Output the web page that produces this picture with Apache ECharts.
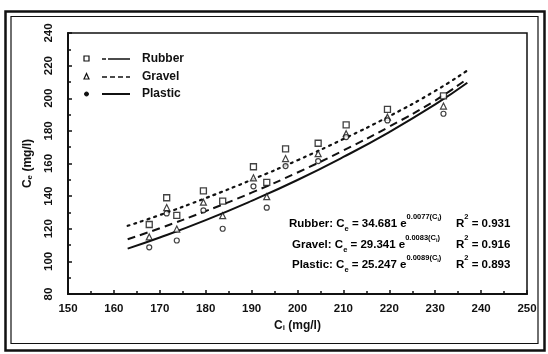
<!DOCTYPE html>
<html>
<head>
<meta charset="utf-8">
<script src="https://cdn.jsdelivr.net/npm/echarts@6/dist/echarts.min.js"></script>
<style>
html,body{margin:0;padding:0;background:#fff;}
#c{width:548px;height:354px;}
</style>
</head>
<body>
<div id="c"></div>
<script>
// ---- data ----
var ci = [167.7, 171.5, 173.7, 179.5, 183.7, 190.4, 193.3, 197.4, 204.5, 210.6, 219.6, 231.8];
var rubber  = [122.6, 139.0, 128.2, 143.2, 136.9, 158.0, 148.4, 169.0, 172.4, 183.7, 193.2, 201.4];
var gravel  = [115.0, 133.0, 119.8, 136.3, 128.0, 151.2, 139.7, 163.0, 166.0, 178.3, 188.4, 195.2];
var plastic = [108.6, 129.4, 112.8, 131.3, 120.0, 146.0, 132.9, 158.4, 161.5, 176.2, 186.4, 190.5];

var fitX       = [163, 170, 180, 190, 200, 210, 220, 230, 237];
var fitRubber  = [121.8, 128.4, 138.8, 150.0, 162.0, 175.0, 189.0, 204.5, 217.0];
var fitGravel  = [113.6, 120.3, 130.8, 142.1, 154.5, 168.0, 182.6, 198.6, 212.0];
var fitPlastic = [107.8, 114.6, 125.3, 137.1, 149.9, 164.0, 179.3, 196.2, 209.5];

var seriesNames = ['Rubber', 'Gravel', 'Plastic'];
var eqA  = ['34.681', '29.341', '25.247'];
var eqB  = ['0.0077', '0.0083', '0.0089'];
var eqR2 = ['0.931', '0.916', '0.893'];

var xTicks = {min: 150, max: 250, interval: 10};
var yTicks = {min: 80, max: 240, interval: 20};

function pairs(xs, ys){ return xs.map(function(x,i){ return [x, ys[i]]; }); }

var FONT = 'Liberation Sans, Arial, sans-serif';
var chart = echarts.init(document.getElementById('c'), null, {renderer:'canvas'});

var richEq = {
  b:  {fontFamily: FONT, fontWeight: 'bold', fontSize: 11.5, color: '#111', lineHeight: 16, verticalAlign: 'middle'},
  s:  {fontFamily: FONT, fontWeight: 'bold', fontSize: 7.5, color: '#111', lineHeight: 16, verticalAlign: 'bottom', padding: [0,0,-1,0]},
  p:  {fontFamily: FONT, fontWeight: 'bold', fontSize: 7.5, color: '#111', lineHeight: 16, verticalAlign: 'top', padding: [-3,0,0,0]},
  ps: {fontFamily: FONT, fontWeight: 'bold', fontSize: 5.5, color: '#111', lineHeight: 16, verticalAlign: 'top', padding: [0,0,0,0]}
};

var graphics = [
  {type:'rect', shape:{x:5.5, y:11.5, width:539, height:339}, style:{fill:'none', stroke:'#111', lineWidth:2.5}, silent:true},
  {type:'rect', shape:{x:11, y:16.5, width:527, height:327}, style:{fill:'none', stroke:'#111', lineWidth:1.2}, silent:true}
];

// legend (drawn manually to match the reference layout)
var legY = [59, 77, 94];
var legDash = [[4,2,22,100], [5,3], null];
graphics.push({type:'rect', shape:{x:84, y:legY[0]-3, width:5, height:5}, style:{fill:'#fff', stroke:'#111', lineWidth:1.2}});
graphics.push({type:'polygon', shape:{points:[[86.5,legY[1]-3.5],[84,legY[1]+2],[89,legY[1]+2]]}, style:{fill:'#fff', stroke:'#111', lineWidth:1.2}});
graphics.push({type:'circle', shape:{cx:86.5, cy:legY[2], r:2}, style:{fill:'#111', stroke:'#111', lineWidth:1}});
for (var k=0;k<3;k++){
  graphics.push({type:'line', shape:{x1:102, y1:legY[k], x2:130, y2:legY[k]}, style:{stroke:'#111', lineWidth: k===2?2:1.6, lineDash: legDash[k] || null}});
  graphics.push({type:'text', x:142, y:legY[k], style:{text: seriesNames[k], font: 'bold 12px ' + FONT, fill:'#111', textVerticalAlign:'middle'}});
}

// equations
var eqY = [224, 245, 265];
var eqX = [289, 292, 292];
for (var j=0;j<3;j++){
  graphics.push({type:'text', x:eqX[j], y:eqY[j], style:{
    text: '{b|' + seriesNames[j] + ': C}{s|e}{b| = ' + eqA[j] + ' e}{p|' + eqB[j] + '(C}{ps|i}{p|)}',
    rich: richEq, textVerticalAlign:'middle'}});
  graphics.push({type:'text', x:456, y:eqY[j], style:{
    text: '{b|R}{p|2}{b| = ' + eqR2[j] + '}',
    rich: richEq, textVerticalAlign:'middle'}});
}

var axisCommon = {
  axisLine:{show:true, lineStyle:{color:'#111', width:2}},
  axisTick:{show:true, inside:true, length:4, lineStyle:{color:'#111', width:1.5}},
  minorTick:{show:true, splitNumber:2, length:3, lineStyle:{color:'#111', width:1.5}},
  splitLine:{show:false},
  nameTextStyle:{fontFamily:FONT, fontWeight:'bold', fontSize:12, color:'#111'}
};

var option = {
  backgroundColor:'#fff',
  animation:false,
  grid:{left:68, right:21, top:33, bottom:60, show:true, borderColor:'#111', borderWidth:1.5},
  xAxis: Object.assign({}, axisCommon, {
    type:'value', min:xTicks.min, max:xTicks.max, interval:xTicks.interval,
    name:'{b|C}{s|i}{b| (mg/l)}', nameLocation:'middle', nameGap:26,
    nameTextStyle:{rich:{
      b:{fontFamily:FONT, fontWeight:'bold', fontSize:12, color:'#111'},
      s:{fontFamily:FONT, fontWeight:'bold', fontSize:8, color:'#111', verticalAlign:'bottom', padding:[4,0,0,0]}}},
    axisLabel:{margin:9, fontFamily:FONT, fontWeight:'bold', fontSize:11.5, color:'#111'}
  }),
  yAxis: Object.assign({}, axisCommon, {
    type:'value', min:yTicks.min, max:yTicks.max, interval:yTicks.interval,
    name:'{b|C}{s|e}{b| (mg/l)}', nameLocation:'middle', nameGap:34,
    nameTextStyle:{rich:{
      b:{fontFamily:FONT, fontWeight:'bold', fontSize:12, color:'#111'},
      s:{fontFamily:FONT, fontWeight:'bold', fontSize:8, color:'#111', verticalAlign:'bottom', padding:[4,0,0,0]}}},
    axisLabel:{rotate:90, margin:13, fontFamily:FONT, fontWeight:'bold', fontSize:11.5, color:'#111'}
  }),
  graphic: graphics,
  series:[
    {type:'scatter', name:seriesNames[0], data:pairs(ci, rubber), symbol:'rect', symbolSize:6,
     itemStyle:{color:'#fff', borderColor:'#111', borderWidth:1.3}, z:5},
    {type:'scatter', name:seriesNames[1], data:pairs(ci, gravel), symbol:'triangle', symbolSize:6,
     itemStyle:{color:'#fff', borderColor:'#111', borderWidth:1.2}, z:5},
    {type:'scatter', name:seriesNames[2], data:pairs(ci, plastic), symbol:'circle', symbolSize:5,
     itemStyle:{color:'#fff', borderColor:'#111', borderWidth:1.2}, z:5},
    {type:'line', name:seriesNames[0]+' fit', data:pairs(fitX, fitRubber), smooth:true, showSymbol:false,
     lineStyle:{color:'#111', width:2.2, type:[2,5], cap:'round'}, z:3},
    {type:'line', name:seriesNames[1]+' fit', data:pairs(fitX, fitGravel), smooth:true, showSymbol:false,
     lineStyle:{color:'#111', width:2, type:[8,5]}, z:3},
    {type:'line', name:seriesNames[2]+' fit', data:pairs(fitX, fitPlastic), smooth:true, showSymbol:false,
     lineStyle:{color:'#111', width:2}, z:3}
  ]
};
chart.setOption(option);
</script>
</body>
</html>
